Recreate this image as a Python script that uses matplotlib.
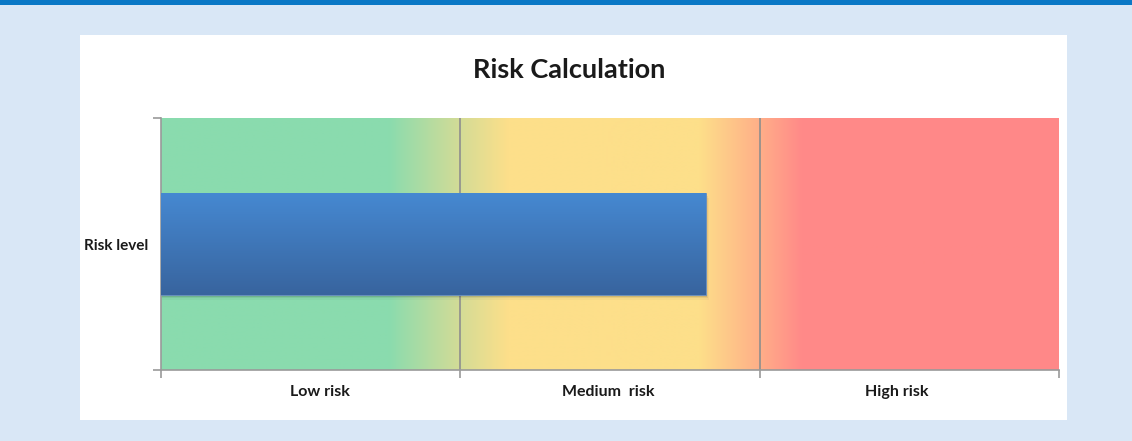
import numpy as np
import matplotlib
matplotlib.use("Agg")
import matplotlib.pyplot as plt
from matplotlib.colors import to_rgb
from matplotlib.patches import Rectangle
from matplotlib.transforms import ScaledTranslation

# ---- data ----
title = "Risk Calculation"
categories = ["Risk level"]
risk_value = [1.82]                     # in band units (0..3)
band_labels = ["Low risk", "Medium  risk", "High risk"]
n_bands = len(band_labels)

plt.rcParams['font.family'] = ['Lato', 'DejaVu Sans']

W, H = 1132, 441
fig = plt.figure(figsize=(W / 100, H / 100), dpi=100)
fig.patch.set_facecolor('#D9E7F6')

# top dark band
fig.add_artist(Rectangle((0, 1 - 5 / H), 1, 5 / H, transform=fig.transFigure,
                         facecolor='#0A78C6', edgecolor='none', zorder=0))
# white panel
fig.add_artist(Rectangle((80 / W, 1 - 420 / H), (1067 - 80) / W, (420 - 35) / H,
                         transform=fig.transFigure, facecolor='white',
                         edgecolor='none', zorder=0))

ax = fig.add_axes([161 / W, 1 - 370 / H, (1059 - 161) / W, (370 - 118) / H])
ax.set_xlim(0, n_bands)
ax.set_ylim(-0.5, 0.5)

# background gradient
stops = [(0.0, '#8ADBAE'), (0.76, '#8ADBAE'), (1.0, '#D4DC96'), (1.16, '#FDDF8A'),
         (1.80, '#FDDF8A'), (2.0, '#FFAF88'), (2.14, '#FF8A88'), (3.0, '#FF8888')]
xs = np.linspace(0, n_bands, 900)
sp = np.array([s[0] for s in stops])
cols = np.array([to_rgb(s[1]) for s in stops])
img = np.stack([np.interp(xs, sp, cols[:, k]) for k in range(3)], axis=-1)[None, :, :]
ax.imshow(img, extent=[0, n_bands, -0.5, 0.5], aspect='auto', zorder=0,
          interpolation='bilinear')

# gridlines
for xv in range(1, n_bands):
    ax.axvline(xv, color='#8E8E8E', lw=1.2, zorder=1)

bh = 0.405
for i, v in enumerate(risk_value):
    # soft shadow
    for k, a in enumerate([0.10, 0.06, 0.03]):
        ax.barh(i - 0.006 * (k + 1), v + 0.004 * (k + 1), height=bh, color='#000000',
                alpha=a, zorder=2, left=0)
    bars = ax.barh(i, v, height=bh, color='#4585CC', edgecolor='#6A8FBF',
                   lw=0.6, zorder=3)
    # vertical gradient on bar
    grad = np.linspace(0, 1, 256)[:, None]
    top = np.array(to_rgb('#4689D2'))
    bot = np.array(to_rgb('#38649E'))
    gimg = (top[None, None, :] * (1 - grad[..., None]) + bot[None, None, :] * grad[..., None])
    gimg = np.repeat(gimg, 2, axis=1)
    im = ax.imshow(gimg, extent=[0, v, i - bh / 2, i + bh / 2], aspect='auto',
                   zorder=4, interpolation='bilinear')
    im.set_clip_path(bars[0])

ax.set_xlim(0, n_bands)
ax.set_ylim(-0.5, 0.5)

# axes styling
for s in ['top', 'right']:
    ax.spines[s].set_visible(False)
for s in ['left', 'bottom']:
    ax.spines[s].set_color('#9A9A9A')
    ax.spines[s].set_linewidth(1.2)

ax.set_xticks(range(n_bands + 1))
ax.set_xticklabels([])
ax.set_xticks([b + 0.5 for b in range(n_bands)], minor=True)
ax.set_xticklabels(band_labels, minor=True, fontsize=11.5, fontweight='bold',
                   color='#1A1A1A')
ax.set_yticks([-0.5, 0.5])
ax.set_yticklabels([])
ax.set_yticks(range(len(categories)), minor=True)
ax.set_yticklabels(categories, minor=True, fontsize=11, fontweight='bold',
                   color='#1A1A1A')
ax.tick_params(which='major', length=6, color='#9A9A9A', width=1.2)
ax.tick_params(which='minor', length=0)
ax.tick_params(axis='x', which='minor', pad=11)
ax.tick_params(axis='y', which='minor', pad=9)

# small horizontal nudges of band labels as in the reference
nudges_px = [9, -2, -13]
for lab, dx in zip(ax.get_xticklabels(minor=True), nudges_px):
    lab.set_transform(lab.get_transform() + ScaledTranslation(dx / 100, 0, fig.dpi_scale_trans))

fig.text(569 / W, 1 - 70 / H, title, ha='center', va='center', fontsize=19.5,
         fontweight='bold', color='#1A1A1A')

fig.savefig('out.png', dpi=100, facecolor=fig.get_facecolor())
